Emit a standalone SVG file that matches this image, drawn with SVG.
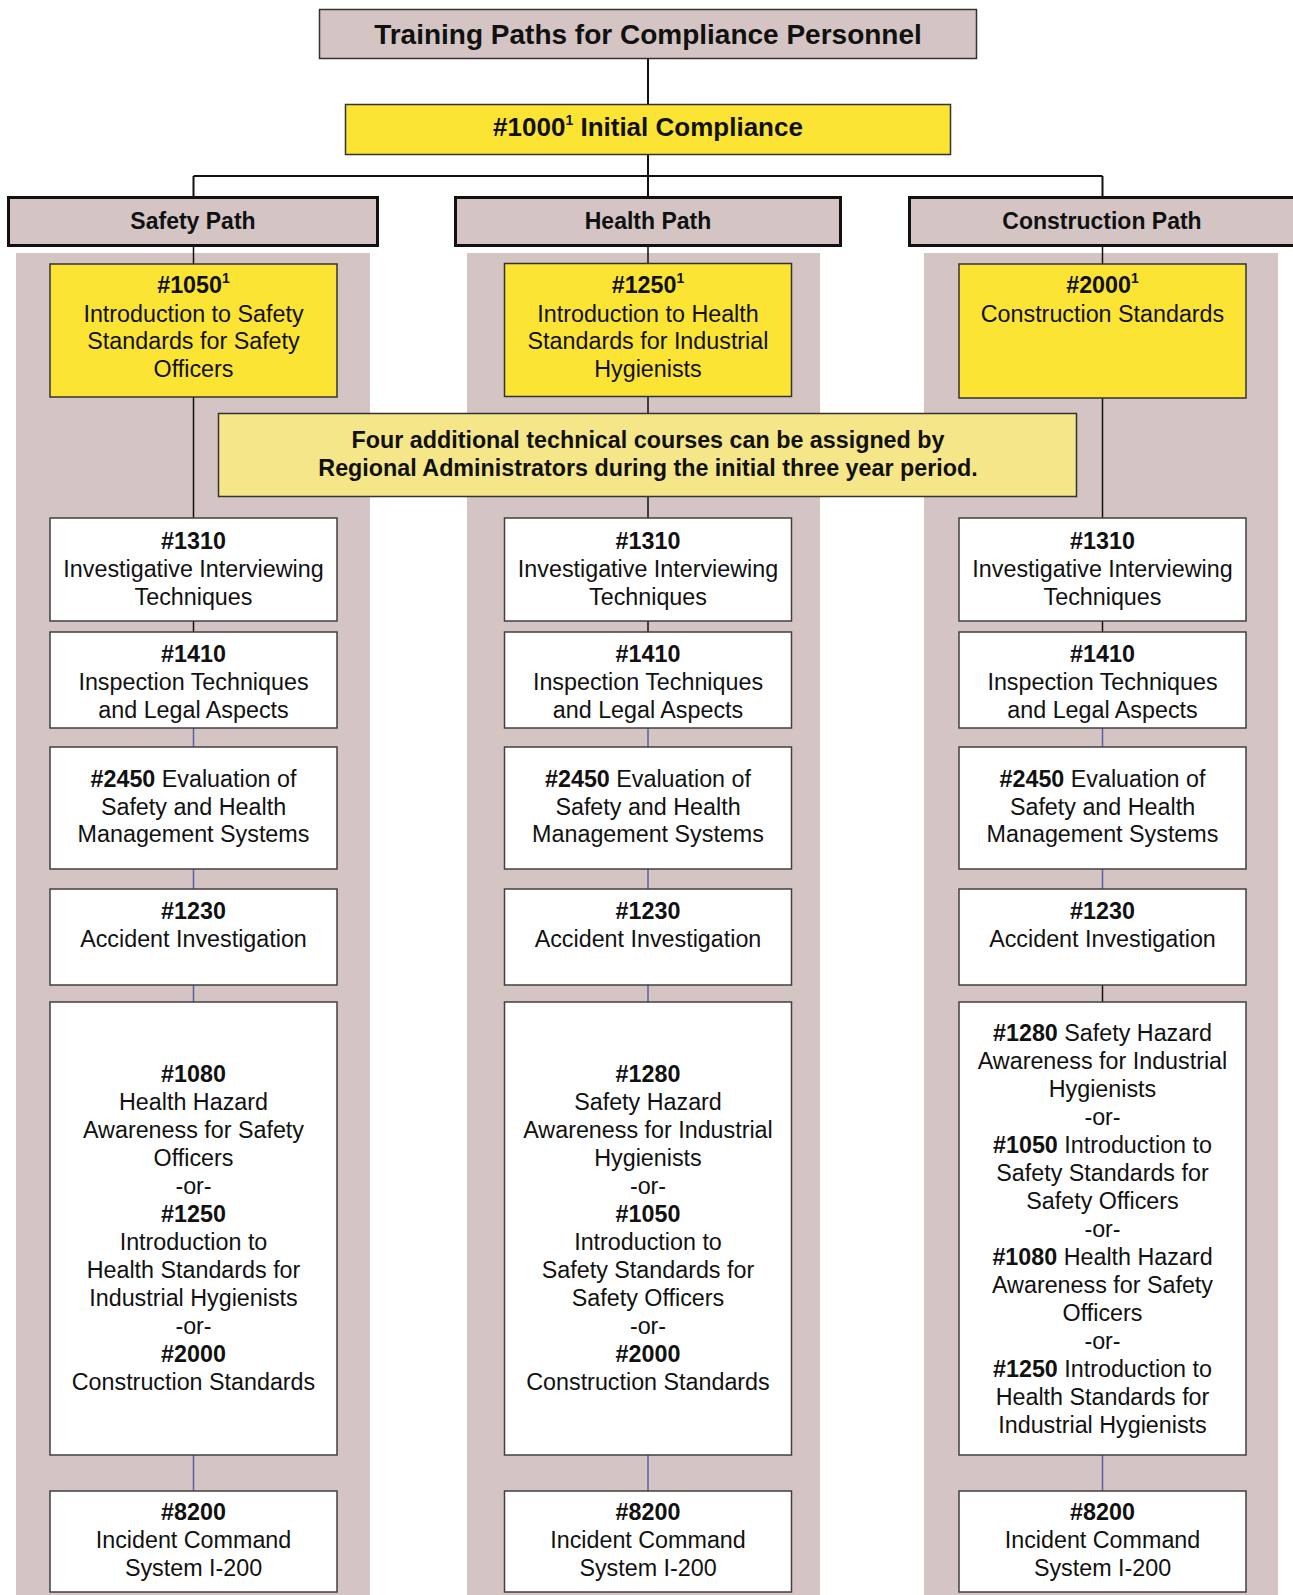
<svg xmlns="http://www.w3.org/2000/svg" width="1293" height="1595" viewBox="0 0 1293 1595">
<style>
text{font-family:"Liberation Sans",Arial,Helvetica,sans-serif;fill:#111;text-anchor:middle}
.t{font-size:23.3px}
.b{font-weight:bold}
.sup{font-size:14px;font-weight:bold}
.panel{fill:#D4C5C4}
.hdr{fill:#D4C5C4;stroke:#111;stroke-width:3}
.ttl{fill:#D4C5C4;stroke:#333;stroke-width:1.5}
.yel{fill:#FCE435;stroke:#333;stroke-width:1.5}
.note{fill:#F5E68A;stroke:#333;stroke-width:1.5}
.box{fill:#fff;stroke:#404040;stroke-width:1.5}
.k{stroke:#111;stroke-width:2;fill:none}
.k1{stroke:#111;stroke-width:1.5;fill:none}
.u{stroke:#5B5EA6;stroke-width:1.5;fill:none}
</style>

<rect width="1293" height="1595" fill="#fff"/>

<g id="panels">
  <rect class="panel" x="16" y="253" width="354" height="1342"/>
  <rect class="panel" x="467" y="253" width="353" height="1342"/>
  <rect class="panel" x="924" y="253" width="354" height="1342"/>
</g>

<g id="connectors">
  <line class="k" x1="648" y1="59" x2="648" y2="104"/>
  <line class="k" x1="648" y1="155" x2="648" y2="197"/>
  <line class="k" x1="193.5" y1="176" x2="1102.5" y2="176"/>
  <line class="k" x1="193.5" y1="176" x2="193.5" y2="197"/>
  <line class="k" x1="1102.5" y1="176" x2="1102.5" y2="197"/>
  <!-- safety -->
  <line class="k1" x1="193.5" y1="247" x2="193.5" y2="264"/>
  <line class="k1" x1="193.5" y1="397" x2="193.5" y2="518"/>
  <line class="k1" x1="193.5" y1="621" x2="193.5" y2="632"/>
  <line class="u" x1="193.5" y1="728" x2="193.5" y2="747"/>
  <line class="u" x1="193.5" y1="869" x2="193.5" y2="889"/>
  <line class="u" x1="193.5" y1="985" x2="193.5" y2="1002"/>
  <line class="u" x1="193.5" y1="1455" x2="193.5" y2="1491"/>
  <!-- health -->
  <line class="k1" x1="648" y1="247" x2="648" y2="264"/>
  <line class="k1" x1="648" y1="396" x2="648" y2="518"/>
  <line class="k1" x1="648" y1="621" x2="648" y2="632"/>
  <line class="u" x1="648" y1="728" x2="648" y2="747"/>
  <line class="u" x1="648" y1="869" x2="648" y2="889"/>
  <line class="u" x1="648" y1="985" x2="648" y2="1002"/>
  <line class="u" x1="648" y1="1455" x2="648" y2="1491"/>
  <!-- construction -->
  <line class="k1" x1="1102.5" y1="247" x2="1102.5" y2="264"/>
  <line class="k1" x1="1102.5" y1="398" x2="1102.5" y2="518"/>
  <line class="k1" x1="1102.5" y1="621" x2="1102.5" y2="632"/>
  <line class="u" x1="1102.5" y1="728" x2="1102.5" y2="747"/>
  <line class="u" x1="1102.5" y1="869" x2="1102.5" y2="889"/>
  <line class="k1" x1="1102.5" y1="985" x2="1102.5" y2="1002"/>
  <line class="u" x1="1102.5" y1="1455" x2="1102.5" y2="1491"/>
</g>

<g id="title">
  <rect class="ttl" x="319.5" y="9.5" width="657" height="49"/>
  <text class="b" x="648" y="44" font-size="28">Training Paths for Compliance Personnel</text>
</g>

<g id="n1000">
  <rect class="yel" x="345.5" y="104.5" width="605" height="50"/>
  <text class="b" x="648" y="136" font-size="26">#1000<tspan font-size="14" dy="-11">1</tspan><tspan dy="11"> Initial Compliance</tspan></text>
</g>

<g id="safety-path">
  <rect class="hdr" x="8.5" y="197.5" width="369" height="48"/>
  <text class="b" x="193" y="229" font-size="23">Safety Path</text>
</g>
<g id="health-path">
  <rect class="hdr" x="455.5" y="197.5" width="385" height="48"/>
  <text class="b" x="648" y="229" font-size="23">Health Path</text>
</g>
<g id="construction-path">
  <rect class="hdr" x="909.5" y="197.5" width="400" height="48"/>
  <text class="b" x="1102" y="229" font-size="23">Construction Path</text>
</g>

<!-- Safety column -->
<g id="s1050">
  <rect class="yel" x="50" y="264" width="287" height="133"/>
  <text class="t" x="193.5" y="293"><tspan class="b">#1050</tspan><tspan class="sup" dy="-10">1</tspan></text>
  <text class="t" x="193.5" y="322">Introduction to Safety</text>
  <text class="t" x="193.5" y="349">Standards for Safety</text>
  <text class="t" x="193.5" y="377">Officers</text>
</g>
<g id="s1310">
  <rect class="box" x="50" y="518" width="287" height="103"/>
  <text class="t b" x="193.5" y="549">#1310</text>
  <text class="t" x="193.5" y="577">Investigative Interviewing</text>
  <text class="t" x="193.5" y="605">Techniques</text>
</g>
<g id="s1410">
  <rect class="box" x="50" y="632" width="287" height="96"/>
  <text class="t b" x="193.5" y="662">#1410</text>
  <text class="t" x="193.5" y="690">Inspection Techniques</text>
  <text class="t" x="193.5" y="718">and Legal Aspects</text>
</g>
<g id="s2450">
  <rect class="box" x="50" y="747" width="287" height="122"/>
  <text class="t" x="193.5" y="787"><tspan class="b">#2450</tspan> Evaluation of</text>
  <text class="t" x="193.5" y="815">Safety and Health</text>
  <text class="t" x="193.5" y="842">Management Systems</text>
</g>
<g id="s1230">
  <rect class="box" x="50" y="889" width="287" height="96"/>
  <text class="t b" x="193.5" y="919">#1230</text>
  <text class="t" x="193.5" y="947">Accident Investigation</text>
</g>
<g id="s-elective">
  <rect class="box" x="50" y="1002" width="287" height="453"/>
  <text class="t b" x="193.5" y="1082">#1080</text>
  <text class="t" x="193.5" y="1110">Health Hazard</text>
  <text class="t" x="193.5" y="1138">Awareness for Safety</text>
  <text class="t" x="193.5" y="1166">Officers</text>
  <text class="t" x="193.5" y="1194">-or-</text>
  <text class="t b" x="193.5" y="1222">#1250</text>
  <text class="t" x="193.5" y="1250">Introduction to</text>
  <text class="t" x="193.5" y="1278">Health Standards for</text>
  <text class="t" x="193.5" y="1306">Industrial Hygienists</text>
  <text class="t" x="193.5" y="1334">-or-</text>
  <text class="t b" x="193.5" y="1362">#2000</text>
  <text class="t" x="193.5" y="1390">Construction Standards</text>
</g>
<g id="s8200">
  <rect class="box" x="50" y="1491" width="287" height="101"/>
  <text class="t b" x="193.5" y="1520">#8200</text>
  <text class="t" x="193.5" y="1548">Incident Command</text>
  <text class="t" x="193.5" y="1576">System I-200</text>
</g>

<!-- Health column -->
<g id="h1250">
  <rect class="yel" x="504.5" y="263.5" width="287" height="133"/>
  <text class="t" x="648" y="293"><tspan class="b">#1250</tspan><tspan class="sup" dy="-10">1</tspan></text>
  <text class="t" x="648" y="322">Introduction to Health</text>
  <text class="t" x="648" y="349">Standards for Industrial</text>
  <text class="t" x="648" y="377">Hygienists</text>
</g>
<g id="h1310">
  <rect class="box" x="504.5" y="518" width="287" height="103"/>
  <text class="t b" x="648" y="549">#1310</text>
  <text class="t" x="648" y="577">Investigative Interviewing</text>
  <text class="t" x="648" y="605">Techniques</text>
</g>
<g id="h1410">
  <rect class="box" x="504.5" y="632" width="287" height="96"/>
  <text class="t b" x="648" y="662">#1410</text>
  <text class="t" x="648" y="690">Inspection Techniques</text>
  <text class="t" x="648" y="718">and Legal Aspects</text>
</g>
<g id="h2450">
  <rect class="box" x="504.5" y="747" width="287" height="122"/>
  <text class="t" x="648" y="787"><tspan class="b">#2450</tspan> Evaluation of</text>
  <text class="t" x="648" y="815">Safety and Health</text>
  <text class="t" x="648" y="842">Management Systems</text>
</g>
<g id="h1230">
  <rect class="box" x="504.5" y="889" width="287" height="96"/>
  <text class="t b" x="648" y="919">#1230</text>
  <text class="t" x="648" y="947">Accident Investigation</text>
</g>
<g id="h-elective">
  <rect class="box" x="504.5" y="1002" width="287" height="453"/>
  <text class="t b" x="648" y="1082">#1280</text>
  <text class="t" x="648" y="1110">Safety Hazard</text>
  <text class="t" x="648" y="1138">Awareness for Industrial</text>
  <text class="t" x="648" y="1166">Hygienists</text>
  <text class="t" x="648" y="1194">-or-</text>
  <text class="t b" x="648" y="1222">#1050</text>
  <text class="t" x="648" y="1250">Introduction to</text>
  <text class="t" x="648" y="1278">Safety Standards for</text>
  <text class="t" x="648" y="1306">Safety Officers</text>
  <text class="t" x="648" y="1334">-or-</text>
  <text class="t b" x="648" y="1362">#2000</text>
  <text class="t" x="648" y="1390">Construction Standards</text>
</g>
<g id="h8200">
  <rect class="box" x="504.5" y="1491" width="287" height="101"/>
  <text class="t b" x="648" y="1520">#8200</text>
  <text class="t" x="648" y="1548">Incident Command</text>
  <text class="t" x="648" y="1576">System I-200</text>
</g>

<!-- Construction column -->
<g id="c2000">
  <rect class="yel" x="959" y="264" width="287" height="134"/>
  <text class="t" x="1102.5" y="293"><tspan class="b">#2000</tspan><tspan class="sup" dy="-10">1</tspan></text>
  <text class="t" x="1102.5" y="322">Construction Standards</text>
</g>
<g id="c1310">
  <rect class="box" x="959" y="518" width="287" height="103"/>
  <text class="t b" x="1102.5" y="549">#1310</text>
  <text class="t" x="1102.5" y="577">Investigative Interviewing</text>
  <text class="t" x="1102.5" y="605">Techniques</text>
</g>
<g id="c1410">
  <rect class="box" x="959" y="632" width="287" height="96"/>
  <text class="t b" x="1102.5" y="662">#1410</text>
  <text class="t" x="1102.5" y="690">Inspection Techniques</text>
  <text class="t" x="1102.5" y="718">and Legal Aspects</text>
</g>
<g id="c2450">
  <rect class="box" x="959" y="747" width="287" height="122"/>
  <text class="t" x="1102.5" y="787"><tspan class="b">#2450</tspan> Evaluation of</text>
  <text class="t" x="1102.5" y="815">Safety and Health</text>
  <text class="t" x="1102.5" y="842">Management Systems</text>
</g>
<g id="c1230">
  <rect class="box" x="959" y="889" width="287" height="96"/>
  <text class="t b" x="1102.5" y="919">#1230</text>
  <text class="t" x="1102.5" y="947">Accident Investigation</text>
</g>
<g id="c-elective">
  <rect class="box" x="959" y="1002" width="287" height="453"/>
  <text class="t" x="1102.5" y="1041"><tspan class="b">#1280</tspan> Safety Hazard</text>
  <text class="t" x="1102.5" y="1069">Awareness for Industrial</text>
  <text class="t" x="1102.5" y="1097">Hygienists</text>
  <text class="t" x="1102.5" y="1125">-or-</text>
  <text class="t" x="1102.5" y="1153"><tspan class="b">#1050</tspan> Introduction to</text>
  <text class="t" x="1102.5" y="1181">Safety Standards for</text>
  <text class="t" x="1102.5" y="1209">Safety Officers</text>
  <text class="t" x="1102.5" y="1237">-or-</text>
  <text class="t" x="1102.5" y="1265"><tspan class="b">#1080</tspan> Health Hazard</text>
  <text class="t" x="1102.5" y="1293">Awareness for Safety</text>
  <text class="t" x="1102.5" y="1321">Officers</text>
  <text class="t" x="1102.5" y="1349">-or-</text>
  <text class="t" x="1102.5" y="1377"><tspan class="b">#1250</tspan> Introduction to</text>
  <text class="t" x="1102.5" y="1405">Health Standards for</text>
  <text class="t" x="1102.5" y="1433">Industrial Hygienists</text>
</g>
<g id="c8200">
  <rect class="box" x="959" y="1491" width="287" height="101"/>
  <text class="t b" x="1102.5" y="1520">#8200</text>
  <text class="t" x="1102.5" y="1548">Incident Command</text>
  <text class="t" x="1102.5" y="1576">System I-200</text>
</g>

<g id="note">
  <rect class="note" x="218.5" y="413.5" width="858" height="83"/>
  <text class="b" x="648" y="448" font-size="23.3">Four additional technical courses can be assigned by</text>
  <text class="b" x="648" y="476" font-size="23.3">Regional Administrators during the initial three year period.</text>
</g>
</svg>
